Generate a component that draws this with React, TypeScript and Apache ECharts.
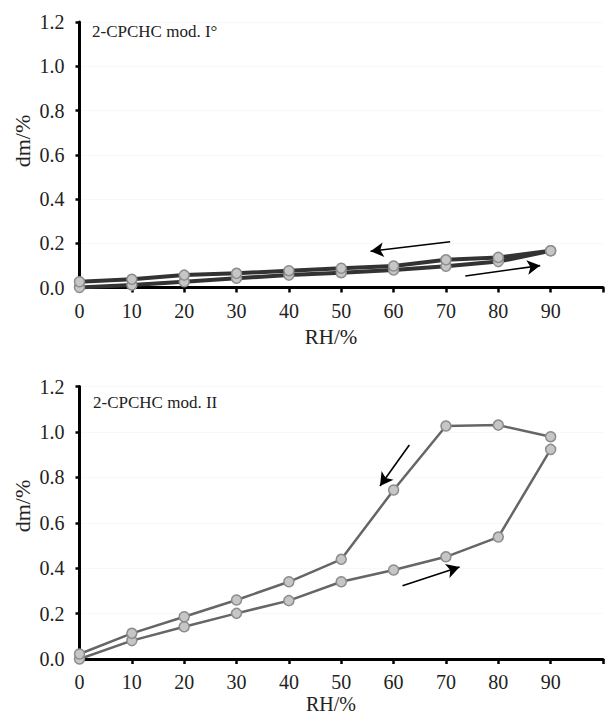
import React, { useEffect, useRef } from "react";
import * as echarts from "echarts";

// RH (%) steps
const rh = [0, 10, 20, 30, 40, 50, 60, 70, 80, 90];
const rhDesorption = [90, 80, 70, 60, 50, 40, 30, 20, 10, 0];

// mod. I° (top panel)
const modISorption = [0.0, 0.011, 0.026, 0.042, 0.056, 0.067, 0.079, 0.096, 0.117, 0.166];
const modIDesorption = [0.166, 0.136, 0.125, 0.097, 0.087, 0.076, 0.064, 0.056, 0.037, 0.026];

// mod. II (bottom panel)
const modIISorption = [0.0, 0.081, 0.142, 0.201, 0.257, 0.34, 0.392, 0.45, 0.537, 0.923];
const modIIDesorption = [0.979, 1.03, 1.026, 0.744, 0.439, 0.34, 0.26, 0.186, 0.113, 0.022];

// arrows [x1, y1, x2, y2] in data units
const arrowsI = [
  [70.8, 0.207, 55.6, 0.164],
  [73.7, 0.052, 88.0, 0.099],
];
const arrowsII = [
  [63.0, 0.942, 57.4, 0.762],
  [61.7, 0.323, 72.6, 0.405],
];

const yTicks = [0, 0.2, 0.4, 0.6, 0.8, 1.0, 1.2];
const titles = ["2-CPCHC mod. I°", "2-CPCHC mod. II"];
const xName = "RH/%";
const yName = "dm/%";

const FONT = "Liberation Serif, Times New Roman, serif";

export default function App() {
  const ref = useRef<HTMLDivElement>(null);
  useEffect(() => {
    document.body.style.margin = "0";
    if (!ref.current) return;
    const chart = echarts.init(ref.current, undefined, { renderer: "svg" });

    const grids = [
      { left: 79.5, top: 22, width: 558, height: 265.5 },
      { left: 79.5, top: 386.5, width: 558, height: 272.5 },
    ];

    const xAxis = grids.map((_, i) => ({
      type: "value" as const,
      gridIndex: i,
      min: 0,
      max: 100,
      interval: 10,
      axisLine: { show: true, lineStyle: { color: "#000", width: 3 } },
      axisTick: { show: true, inside: false, length: 5, lineStyle: { color: "#000", width: 2.5 } },
      axisLabel: {
        margin: 13,
        fontSize: 20,
        fontFamily: FONT,
        color: "#222",
        formatter: (v: number) => (v <= 90 ? String(v) : ""),
      },
      splitLine: { show: false },
    }));

    const yAxis = grids.map((_, i) => ({
      type: "value" as const,
      gridIndex: i,
      min: yTicks[0],
      max: yTicks[yTicks.length - 1],
      interval: 0.2,
      axisLine: { show: true, lineStyle: { color: "#000", width: 3 } },
      axisTick: { show: true, inside: false, length: 4, lineStyle: { color: "#000", width: 2.5 } },
      axisLabel: {
        margin: 15,
        fontSize: 20,
        fontFamily: FONT,
        color: "#222",
        formatter: (v: number) => v.toFixed(1),
      },
      splitLine: { show: true, lineStyle: { color: "#f0f0f0", type: "dotted", width: 1 } },
    }));

    const marker = {
      symbol: "circle",
      symbolSize: 10,
      itemStyle: { color: "#c6c6c6", borderColor: "#8c8c8c", borderWidth: 1.5 },
    };

    const arrowMark = (arr: number[][]) => ({
      silent: true,
      symbol: ["none", "arrow"],
      symbolSize: [11, 13],
      label: { show: false },
      lineStyle: { color: "#000", width: 1.6, type: "solid" as const },
      emphasis: { disabled: true },
      data: arr.map((a) => [{ coord: [a[0], a[1]] }, { coord: [a[2], a[3]] }]),
    });

    const series: any[] = [
      {
        type: "line",
        xAxisIndex: 0,
        yAxisIndex: 0,
        data: rh.map((x, i) => [x, modISorption[i]]),
        lineStyle: { color: "#333", width: 4 },
        ...marker,
        markLine: arrowMark(arrowsI),
        z: 3,
      },
      {
        type: "line",
        xAxisIndex: 0,
        yAxisIndex: 0,
        data: rhDesorption.map((x, i) => [x, modIDesorption[i]]),
        lineStyle: { color: "#333", width: 4 },
        ...marker,
        z: 3,
      },
      {
        type: "line",
        xAxisIndex: 1,
        yAxisIndex: 1,
        data: rh.map((x, i) => [x, modIISorption[i]]),
        lineStyle: { color: "#666", width: 2.5 },
        ...marker,
        markLine: arrowMark(arrowsII),
        z: 3,
      },
      {
        type: "line",
        xAxisIndex: 1,
        yAxisIndex: 1,
        data: rhDesorption.map((x, i) => [x, modIIDesorption[i]]),
        lineStyle: { color: "#666", width: 2.5 },
        ...marker,
        z: 3,
      },
    ];

    const titleStyle = { fontSize: 17, fontFamily: FONT, fontWeight: "normal" as const, color: "#222" };
    const nameStyle = { fontSize: 21, fontFamily: FONT, fontWeight: "normal" as const, color: "#222" };

    chart.setOption({
      animation: false,
      backgroundColor: "#fff",
      grid: grids,
      xAxis,
      yAxis,
      series,
      title: [
        { text: titles[0], left: 92, top: 23, padding: 0, textStyle: titleStyle },
        { text: titles[1], left: 93, top: 394, padding: 0, textStyle: titleStyle },
        { text: xName, left: 331, top: 326, padding: 0, textAlign: "center", textStyle: nameStyle },
        { text: xName, left: 331, top: 694, padding: 0, textAlign: "center", textStyle: { ...nameStyle, fontSize: 20 } },
      ],
      graphic: [
        {
          type: "text",
          x: 22,
          y: 141,
          rotation: Math.PI / 2,
          style: { text: yName, fontSize: 22, fontFamily: FONT, fill: "#222", align: "center", verticalAlign: "middle" },
        },
        {
          type: "text",
          x: 22,
          y: 506,
          rotation: Math.PI / 2,
          style: { text: yName, fontSize: 22, fontFamily: FONT, fill: "#222", align: "center", verticalAlign: "middle" },
        },
      ],
    });
    return () => chart.dispose();
  }, []);
  return <div ref={ref} style={{ width: 606, height: 718 }} />;
}
